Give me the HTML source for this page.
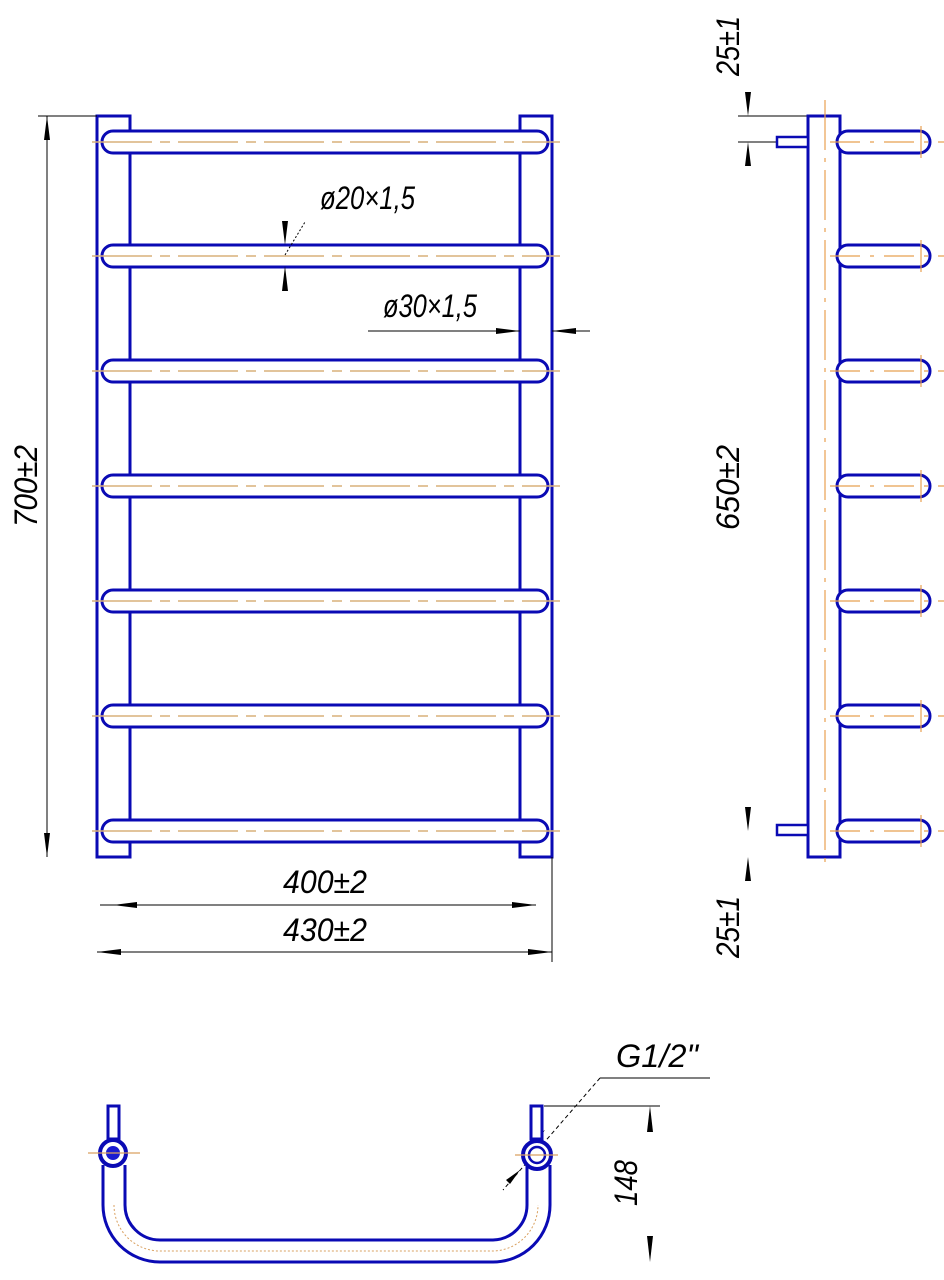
<!DOCTYPE html>
<html><head><meta charset="utf-8"><style>
html,body{margin:0;padding:0;background:#fff}
svg{display:block}
text{font-family:"Liberation Sans",sans-serif;font-style:italic;fill:#000}
</style></head><body>
<svg width="944" height="1280" viewBox="0 0 944 1280" xmlns="http://www.w3.org/2000/svg">
<defs>
<g id="rail">
<path d="M113,-11 H537 A11,11 0 0 1 537,11 H113 A11,11 0 0 1 113,-11 Z" fill="#fff" stroke="#0a0ab4" stroke-width="3"/>
<line x1="92" y1="0" x2="560" y2="0" stroke="#d9b07a" stroke-width="1.5" stroke-dasharray="60,8,10,8"/>
</g>
<g id="srail">
<path d="M848,-11 H919 A11,11 0 0 1 919,11 H848 A11,11 0 0 1 848,-11 Z" fill="#fff" stroke="#0a0ab4" stroke-width="3"/>
<line x1="830" y1="0" x2="944" y2="0" stroke="#e8a050" stroke-width="1.2" stroke-dasharray="30,10,4,10"/>
<line x1="921" y1="-16" x2="921" y2="16" stroke="#e8a050" stroke-width="1.2"/>
</g>
</defs>
<rect x="97" y="116" width="33" height="741" fill="#fff" stroke="#0a0ab4" stroke-width="3"/>
<rect x="520" y="116" width="32" height="741" fill="#fff" stroke="#0a0ab4" stroke-width="3"/>
<use href="#rail" y="142"/>
<use href="#rail" y="256"/>
<use href="#rail" y="371"/>
<use href="#rail" y="486"/>
<use href="#rail" y="601"/>
<use href="#rail" y="716"/>
<use href="#rail" y="831"/>
<g stroke="#000" stroke-width="1">
<line x1="38" y1="116" x2="97" y2="116"/>
<line x1="47" y1="116" x2="47" y2="857"/>
<line x1="100" y1="905" x2="536" y2="905"/>
<line x1="97" y1="952" x2="552" y2="952"/>
<line x1="552" y1="857" x2="552" y2="962"/>
<line x1="368" y1="331" x2="520" y2="331"/>
<line x1="552" y1="331" x2="590" y2="331"/>
<line x1="285" y1="255" x2="305" y2="222" stroke-dasharray="2,2"/>
<line x1="738" y1="116" x2="808" y2="116"/>
<line x1="738" y1="142" x2="777" y2="142"/>
<line x1="544" y1="1106" x2="660" y2="1106"/>
<line x1="600" y1="1078" x2="710" y2="1078"/>
<line x1="600" y1="1078" x2="503" y2="1190" stroke-dasharray="4,3"/>
</g>
<g fill="#000">
<polygon points="47,116 44,140 50,140"/>
<polygon points="47,857 44,833 50,833"/>
<polygon points="113,905 137,902 137,908"/>
<polygon points="536,905 512,902 512,908"/>
<polygon points="97,952 121,949 121,955"/>
<polygon points="552,952 528,949 528,955"/>
<polygon points="520,331 496,328 496,334"/>
<polygon points="552,331 576,328 576,334"/>
<polygon points="285,245 282,221 288,221"/>
<polygon points="285,266 282,291 288,291"/>
<polygon points="748,116 745,92 751,92"/>
<polygon points="748,142 745,166 751,166"/>
<polygon points="748,831 745,807 751,807"/>
<polygon points="748,857 745,881 751,881"/>
<polygon points="650,1106 647,1132 653,1132"/>
<polygon points="650,1262 647,1236 653,1236"/>
<polygon points="545,1130 530,1140 534,1145"/>
<polygon points="520,1170 506,1180 510,1184"/>
</g>
<rect x="808" y="116" width="32" height="741" fill="#fff" stroke="#0a0ab4" stroke-width="3"/>
<line x1="825" y1="100" x2="825" y2="870" stroke="#e8a050" stroke-width="1.2" stroke-dasharray="50,8,4,8"/>
<rect x="777" y="137" width="31" height="10" fill="#fff" stroke="#0a0ab4" stroke-width="2.5"/>
<rect x="777" y="825" width="31" height="10" fill="#fff" stroke="#0a0ab4" stroke-width="2.5"/>
<use href="#srail" y="142"/>
<use href="#srail" y="256"/>
<use href="#srail" y="371"/>
<use href="#srail" y="486"/>
<use href="#srail" y="601"/>
<use href="#srail" y="716"/>
<use href="#srail" y="831"/>
<g fill="none" stroke="#0a0ab4" stroke-width="3">
<path d="M103,1165 V1205 A57,57 0 0 0 160,1262 H493 A57,57 0 0 0 550,1205 V1165"/>
<path d="M125,1165 V1205 A35,35 0 0 0 160,1240 H493 A35,35 0 0 0 527,1205 V1165"/>
<rect x="108" y="1106" width="11" height="33" fill="#fff"/>
<rect x="531" y="1106" width="11" height="33" fill="#fff"/>
<circle cx="113" cy="1153" r="13" fill="#fff" stroke-width="4"/>
<circle cx="537" cy="1155" r="14" fill="#fff" stroke-width="4"/>
<circle cx="537" cy="1155" r="8" stroke-width="2.5"/>
</g>
<circle cx="113" cy="1153" r="7" fill="#1a1ad0"/>
<line x1="88" y1="1153" x2="140" y2="1153" stroke="#d9a060" stroke-width="1.3"/>
<line x1="515" y1="1155" x2="558" y2="1155" stroke="#d9a060" stroke-width="1.3"/>
<path d="M114,1205 A46,46 0 0 0 160,1251 H493 A46,46 0 0 0 538,1205" fill="none" stroke="#d9a060" stroke-width="1" stroke-dasharray="2,2"/>
<text x="0" y="0" font-size="32" textLength="82" lengthAdjust="spacingAndGlyphs" transform="translate(37,527) rotate(-90)">700±2</text>
<text x="283" y="893" font-size="32" textLength="84" lengthAdjust="spacingAndGlyphs">400±2</text>
<text x="283" y="941" font-size="32" textLength="84" lengthAdjust="spacingAndGlyphs">430±2</text>
<text x="320" y="209" font-size="32" textLength="95" lengthAdjust="spacingAndGlyphs">ø20×1,5</text>
<text x="383" y="317" font-size="32" textLength="94" lengthAdjust="spacingAndGlyphs">ø30×1,5</text>
<text x="0" y="0" font-size="32" textLength="85" lengthAdjust="spacingAndGlyphs" transform="translate(739,530) rotate(-90)">650±2</text>
<text x="0" y="0" font-size="32" textLength="60" lengthAdjust="spacingAndGlyphs" transform="translate(739,76) rotate(-90)">25±1</text>
<text x="0" y="0" font-size="32" textLength="62" lengthAdjust="spacingAndGlyphs" transform="translate(739,958) rotate(-90)">25±1</text>
<text x="616" y="1067" font-size="32" textLength="82" lengthAdjust="spacingAndGlyphs">G1/2"</text>
<text x="0" y="0" font-size="32" textLength="46" lengthAdjust="spacingAndGlyphs" transform="translate(637,1206) rotate(-90)">148</text>
</svg>
</body></html>
